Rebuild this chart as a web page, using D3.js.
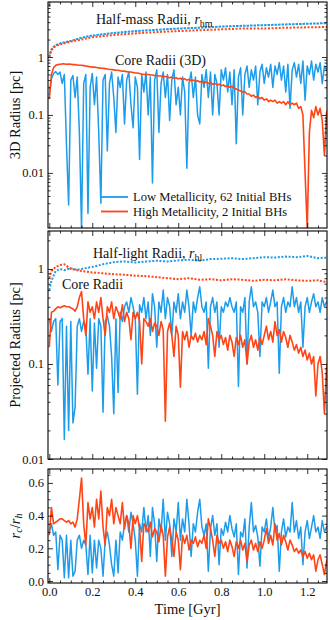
<!DOCTYPE html>
<html>
<head>
<meta charset="utf-8">
<script src="https://cdn.jsdelivr.net/npm/d3@7"></script>
<style>
body { margin: 0; background: #fff; }
svg { display: block; font-family: "Liberation Serif", "DejaVu Serif", serif; }
</style>
</head>
<body>
<svg width="330" height="620"></svg>
<script>
// sampling times of the noisy series [Gyr], one every 0.01
var time = d3.range(131).map(function(i) { return i / 100; });

// half-mass radii [pc]
var halfMassTime = [0, 0.005, 0.01, 0.02, 0.03, 0.05, 0.1, 0.15, 0.2, 0.3, 0.4, 0.5, 0.6, 0.7, 0.8, 0.9, 1.0, 1.1, 1.2, 1.3];
var halfMassLow  = [1.0, 1.2, 1.35, 1.5, 1.6, 1.72, 1.9, 2.15, 2.35, 2.6, 2.8, 2.95, 3.1, 3.2, 3.35, 3.45, 3.55, 3.65, 3.75, 3.85];
var halfMassHigh = [1.0, 1.15, 1.3, 1.45, 1.55, 1.65, 1.85, 2.0, 2.2, 2.4, 2.55, 2.7, 2.8, 2.9, 3.0, 3.1, 3.1, 3.2, 3.25, 3.3];

// 3D core radii [pc]
var core3dLow = [
  0.22,0.42,0.52,0.56,0.5,0.55,0.35,0.5,0.03,0.0028,
  0.4,0.48,0.2,0.45,0.05,0.0011,0.35,0.5,0.002,0.3,
  0.52,0.15,0.45,0.05,0.003,0.4,0.5,0.024,0.35,0.55,
  0.2,0.05,0.45,0.3,0.5,0.07,0.4,0.55,0.15,0.06,
  0.45,0.3,0.017,0.5,0.25,0.55,0.1,0.45,0.0067,0.4,
  0.6,0.05,0.35,0.55,0.2,0.5,0.08,0.4,0.6,0.15,
  0.3,0.1,0.45,0.25,0.012,0.35,0.55,0.2,0.45,0.1,
  0.07,0.5,0.3,0.6,0.2,0.55,0.1,0.5,0.35,0.1,
  0.6,0.4,0.65,0.25,0.55,0.15,0.6,0.032,0.45,0.65,
  0.1,0.5,0.7,0.3,0.6,0.4,0.7,0.15,0.55,0.75,
  0.35,0.65,0.45,0.75,0.3,0.7,0.5,0.8,0.4,0.7,
  0.25,0.75,0.13,0.6,0.8,0.45,0.75,0.35,0.85,0.18,
  0.7,0.5,0.85,0.4,0.75,0.55,0.8,0.35,0.7,0.6,
  0.75];
var core3dHigh = [
  0.19,0.5,0.65,0.72,0.74,0.75,0.76,0.76,0.75,0.76,
  0.75,0.74,0.74,0.73,0.72,0.72,0.71,0.7,0.69,0.68,
  0.67,0.67,0.66,0.65,0.64,0.64,0.63,0.62,0.61,0.61,
  0.6,0.59,0.59,0.58,0.57,0.57,0.56,0.55,0.55,0.54,
  0.53,0.53,0.52,0.51,0.5,0.5,0.5,0.49,0.49,0.48,
  0.48,0.47,0.47,0.46,0.46,0.45,0.44,0.45,0.43,0.44,
  0.42,0.43,0.41,0.42,0.4,0.41,0.39,0.4,0.38,0.39,
  0.37,0.38,0.36,0.37,0.35,0.36,0.34,0.35,0.33,0.34,
  0.32,0.33,0.31,0.32,0.3,0.31,0.29,0.28,0.27,0.26,
  0.25,0.25,0.23,0.23,0.21,0.22,0.2,0.21,0.19,0.2,
  0.18,0.19,0.17,0.18,0.17,0.18,0.16,0.17,0.16,0.17,
  0.15,0.17,0.15,0.16,0.15,0.16,0.13,0.14,0.1,0.01,
  0.0011,0.05,0.12,0.09,0.14,0.1,0.13,0.08,0.02,0.11,
  0.14];

// half-light radii [pc]
var halfLightTime = [0, 0.01, 0.02, 0.03, 0.05, 0.07, 0.1, 0.13, 0.15, 0.2, 0.25, 0.3, 0.35, 0.4, 0.45, 0.5, 0.55, 0.6, 0.65, 0.7, 0.75, 0.8, 0.85, 0.9, 0.95, 1.0, 1.05, 1.1, 1.15, 1.2, 1.25, 1.3];
var halfLightLow  = [0.6, 0.75, 0.85, 0.95, 1.0, 0.97, 1.02, 0.98, 1.0, 1.05, 1.12, 1.18, 1.2, 1.17, 1.2, 1.22, 1.2, 1.23, 1.25, 1.22, 1.27, 1.28, 1.3, 1.27, 1.3, 1.33, 1.32, 1.35, 1.33, 1.37, 1.3, 1.32];
var halfLightHigh = [0.8, 0.95, 1.0, 1.05, 1.1, 1.12, 1.0, 0.97, 0.95, 0.92, 0.9, 0.88, 0.87, 0.85, 0.84, 0.82, 0.8, 0.78, 0.8, 0.77, 0.78, 0.76, 0.78, 0.77, 0.75, 0.77, 0.76, 0.78, 0.76, 0.75, 0.76, 0.72];

// projected core radii [pc]
var coreProjLow = [
  0.3,0.22,0.28,0.3,0.06,0.28,0.3,0.016,0.25,0.02,
  0.28,0.024,0.035,0.25,0.3,0.22,0.28,0.25,0.078,0.3,
  0.052,0.27,0.09,0.3,0.25,0.031,0.28,0.32,0.25,0.12,
  0.03,0.3,0.05,0.35,0.28,0.4,0.45,0.35,0.5,0.4,
  0.3,0.048,0.42,0.35,0.5,0.3,0.45,0.2,0.55,0.4,
  0.15,0.45,0.35,0.6,0.3,0.5,0.4,0.2,0.45,0.35,
  0.55,0.3,0.45,0.35,0.6,0.4,0.2,0.45,0.35,0.5,
  0.65,0.4,0.35,0.45,0.09,0.4,0.5,0.35,0.45,0.15,
  0.4,0.35,0.45,0.4,0.5,0.4,0.35,0.45,0.058,0.4,
  0.35,0.5,0.1,0.45,0.65,0.4,0.45,0.35,0.12,0.45,
  0.4,0.5,0.35,0.45,0.6,0.4,0.45,0.08,0.4,0.5,
  0.35,0.45,0.4,0.65,0.4,0.5,0.35,0.45,0.15,0.4,
  0.5,0.35,0.45,0.55,0.4,0.45,0.35,0.5,0.4,0.45,
  0.42];
var coreProjHigh = [
  0.15,0.35,0.36,0.38,0.4,0.39,0.4,0.41,0.4,0.4,
  0.39,0.38,0.36,0.4,0.5,0.58,0.3,0.2,0.45,0.35,
  0.4,0.3,0.45,0.35,0.5,0.3,0.2,0.4,0.35,0.45,
  0.3,0.4,0.35,0.3,0.42,0.28,0.35,0.3,0.18,0.35,
  0.3,0.35,0.28,0.1,0.3,0.28,0.25,0.3,0.22,0.27,
  0.25,0.2,0.28,0.23,0.025,0.22,0.27,0.2,0.12,0.25,
  0.2,0.057,0.22,0.18,0.22,0.15,0.2,0.18,0.21,0.17,
  0.2,0.18,0.22,0.16,0.3,0.25,0.2,0.12,0.22,0.18,
  0.2,0.16,0.19,0.14,0.2,0.17,0.12,0.19,0.16,0.2,
  0.15,0.18,0.1,0.17,0.2,0.15,0.18,0.14,0.19,0.16,
  0.2,0.25,0.18,0.22,0.17,0.28,0.2,0.23,0.17,0.22,
  0.19,0.15,0.2,0.17,0.14,0.16,0.13,0.15,0.12,0.14,
  0.11,0.13,0.1,0.12,0.046,0.1,0.12,0.08,0.03,0.09,
  0.12];

// core radius / half-light radius
var ratioLow = [
  0.3,0.35,0.28,0.3,0.07,0.28,0.25,0.02,0.28,0.02,
  0.25,0.03,0.06,0.25,0.28,0.2,0.25,0.22,0.04,0.28,
  0.05,0.25,0.08,0.25,0.2,0.03,0.25,0.3,0.22,0.1,
  0.03,0.25,0.05,0.3,0.25,0.35,0.4,0.3,0.42,0.35,
  0.25,0.03,0.35,0.3,0.45,0.3,0.4,0.15,0.45,0.35,
  0.12,0.38,0.3,0.5,0.25,0.42,0.35,0.15,0.38,0.3,
  0.48,0.25,0.38,0.3,0.5,0.35,0.15,0.35,0.3,0.42,
  0.5,0.33,0.28,0.35,0.06,0.32,0.4,0.28,0.35,0.1,
  0.32,0.28,0.36,0.3,0.4,0.32,0.27,0.35,0.04,0.3,
  0.27,0.38,0.08,0.33,0.48,0.3,0.34,0.27,0.09,0.33,
  0.3,0.38,0.26,0.33,0.45,0.3,0.34,0.06,0.3,0.38,
  0.27,0.33,0.3,0.48,0.3,0.37,0.26,0.33,0.1,0.3,
  0.37,0.26,0.33,0.4,0.3,0.33,0.26,0.37,0.3,0.33,
  0.32];
var ratioHigh = [
  0.28,0.45,0.35,0.36,0.37,0.38,0.38,0.37,0.36,0.37,
  0.35,0.36,0.33,0.38,0.5,0.63,0.35,0.22,0.48,0.38,
  0.45,0.33,0.5,0.38,0.55,0.33,0.22,0.45,0.4,0.5,
  0.35,0.45,0.4,0.35,0.48,0.32,0.4,0.35,0.2,0.4,
  0.35,0.4,0.32,0.12,0.35,0.33,0.3,0.36,0.27,0.32,
  0.3,0.24,0.34,0.28,0.03,0.27,0.33,0.25,0.15,0.3,
  0.25,0.07,0.28,0.23,0.28,0.19,0.25,0.23,0.27,0.21,
  0.25,0.23,0.28,0.2,0.38,0.32,0.25,0.15,0.28,0.23,
  0.25,0.2,0.24,0.18,0.25,0.21,0.15,0.24,0.2,0.25,
  0.19,0.23,0.12,0.22,0.25,0.19,0.23,0.18,0.24,0.2,
  0.25,0.32,0.23,0.28,0.22,0.35,0.25,0.29,0.22,0.28,
  0.24,0.19,0.25,0.22,0.18,0.2,0.17,0.19,0.15,0.18,
  0.14,0.17,0.13,0.16,0.06,0.13,0.16,0.1,0.04,0.12,
  0.16];

// ticks
var xTicks = [0, 0.2, 0.4, 0.6, 0.8, 1.0, 1.2];
var xTickLabels = ["0.0", "0.2", "0.4", "0.6", "0.8", "1.0", "1.2"];
var logTicks = [0.01, 0.1, 1];
var logTickLabels = ["0.01", "0.1", "1"];
var ratioTicks = [0, 0.2, 0.4, 0.6];
var ratioTickLabels = ["0.0", "0.2", "0.4", "0.6"];

var blue = "#1c9cea", red = "#ff4516";

var svg = d3.select("svg");
var x = d3.scaleLinear().domain([-0.006, 1.292]).range([48, 327]);

var xMinor = d3.range(0, 1.29, 0.05).filter(function(t) {
    return Math.abs(t / 0.2 - Math.round(t / 0.2)) > 0.01;
});

function logMinor(y) {
    var dom = y.domain(), out = [];
    for (var k = -4; k <= 1; k++)
        for (var m = 2; m <= 9; m++) {
            var v = m * Math.pow(10, k);
            if (v > dom[0] && v < dom[1]) out.push(v);
        }
    return out;
}

function axis(fn, scale, pos, values, size, labels) {
    var a = fn(scale).tickValues(values).tickSizeInner(-size).tickSizeOuter(0).tickPadding(4)
        .tickFormat(labels ? function(d, i) { return labels[i]; } : function() { return ""; });
    var g = svg.append("g").attr("transform", pos).call(a);
    g.attr("font-family", null).attr("font-size", 12.5);
    g.select(".domain").remove();
    g.selectAll(".tick line").attr("stroke-width", 0.8);
    g.selectAll(".tick text").attr("fill", "#111");
    return g;
}

function panel(id, top, bottom, y, yMajor, yLabels, yMinor, xLabels) {
    y.range([bottom, top]);
    svg.append("clipPath").attr("id", id)
        .append("rect").attr("x", 48).attr("y", top).attr("width", 279).attr("height", bottom - top);
    var g = svg.append("g").attr("clip-path", "url(#" + id + ")");

    axis(d3.axisBottom, x, "translate(0," + bottom + ")", xTicks, 5, xLabels ? xTickLabels : null);
    axis(d3.axisBottom, x, "translate(0," + bottom + ")", xMinor, 2.5, null);
    axis(d3.axisTop, x, "translate(0," + top + ")", xTicks, 5, null);
    axis(d3.axisTop, x, "translate(0," + top + ")", xMinor, 2.5, null);
    axis(d3.axisLeft, y, "translate(48,0)", yMajor, 5, yLabels);
    axis(d3.axisLeft, y, "translate(48,0)", yMinor, 2.5, null);
    axis(d3.axisRight, y, "translate(327,0)", yMajor, 5, null);
    axis(d3.axisRight, y, "translate(327,0)", yMinor, 2.5, null);

    svg.append("rect").attr("x", 48).attr("y", top).attr("width", 279).attr("height", bottom - top)
        .attr("fill", "none").attr("stroke", "#000").attr("stroke-width", 1.1);
    return g;
}

function series(g, y, t, v, color, width, dash) {
    var line = d3.line().x(function(d) { return x(d[0]); }).y(function(d) { return y(d[1]); });
    g.append("path").datum(d3.zip(t, v)).attr("d", line)
        .attr("fill", "none").attr("stroke", color).attr("stroke-width", width)
        .attr("stroke-linejoin", "round").attr("stroke-dasharray", dash || null);
}

// panel 1: 3D radii
var y1 = d3.scaleLog().domain([0.00112, 8.9]);
var g1 = panel("c1", 2, 228, y1, logTicks, logTickLabels, logMinor(y1), false);
series(g1, y1, halfMassTime, halfMassLow, blue, 2, "2.5,1");
series(g1, y1, halfMassTime, halfMassHigh, red, 2, "2,1.6");
series(g1, y1, time, core3dLow, blue, 1.5);
series(g1, y1, time, core3dHigh, red, 1.6);

// panel 2: projected radii
var y2 = d3.scaleLog().domain([0.01, 2.51]);
var g2 = panel("c2", 231, 459, y2, logTicks, logTickLabels, logMinor(y2), false);
series(g2, y2, halfLightTime, halfLightLow, blue, 2, "2,1.6");
series(g2, y2, halfLightTime, halfLightHigh, red, 2, "2,1.6");
series(g2, y2, time, coreProjLow, blue, 1.5);
series(g2, y2, time, coreProjHigh, red, 1.6);

// panel 3: ratio
var y3 = d3.scaleLinear().domain([-0.012, 0.685]);
var g3 = panel("c3", 469, 583, y3, ratioTicks, ratioTickLabels,
    d3.range(0.05, 0.68, 0.05).filter(function(v) { return Math.abs(v / 0.2 - Math.round(v / 0.2)) > 0.01; }), true);
series(g3, y3, time, ratioLow, blue, 1.5);
series(g3, y3, time, ratioHigh, red, 1.6);

// annotations
function label(xp, yp, txt, sub) {
    var t = svg.append("text").attr("x", xp).attr("y", yp).attr("font-size", 14).attr("fill", "#111").text(txt);
    if (sub) {
        t.append("tspan").attr("font-style", "italic").text("r");
        t.append("tspan").attr("font-size", 10).attr("dy", 3).text(sub);
    }
}
label(96, 24, "Half-mass Radii, ", "hm");
label(115, 65, "Core Radii (3D)");
label(93, 258, "Half-light Radii, ", "hl");
label(62, 289, "Core Radii");

// legend
[["Low Metallicity, 62 Initial BHs", blue, 197], ["High Metallicity, 2 Initial BHs", red, 211.5]].forEach(function(d) {
    svg.append("line").attr("x1", 101).attr("x2", 128).attr("y1", d[2]).attr("y2", d[2])
        .attr("stroke", d[1]).attr("stroke-width", 1.8);
    svg.append("text").attr("x", 133).attr("y", d[2] + 4.3).attr("font-size", 12.6).attr("fill", "#111").text(d[0]);
});

// axis titles
function ytitle(yc, build) {
    var t = svg.append("text").attr("transform", "translate(15," + yc + ") rotate(-90)")
        .attr("text-anchor", "middle").attr("dominant-baseline", "central")
        .attr("font-size", 14.5).attr("fill", "#111");
    build(t);
}
ytitle(115, function(t) { t.text("3D Radius [pc]"); });
ytitle(345, function(t) { t.text("Projected Radius [pc]"); });
ytitle(526, function(t) {
    t.append("tspan").attr("font-style", "italic").text("r");
    t.append("tspan").attr("font-style", "italic").attr("font-size", 10).attr("dy", 3).text("c");
    t.append("tspan").attr("dy", -3).text("/");
    t.append("tspan").attr("font-style", "italic").text("r");
    t.append("tspan").attr("font-style", "italic").attr("font-size", 10).attr("dy", 3).text("h");
});
svg.append("text").attr("x", 187.5).attr("y", 614).attr("text-anchor", "middle")
    .attr("font-size", 14.5).attr("fill", "#111").text("Time [Gyr]");
</script>
</body>
</html>
